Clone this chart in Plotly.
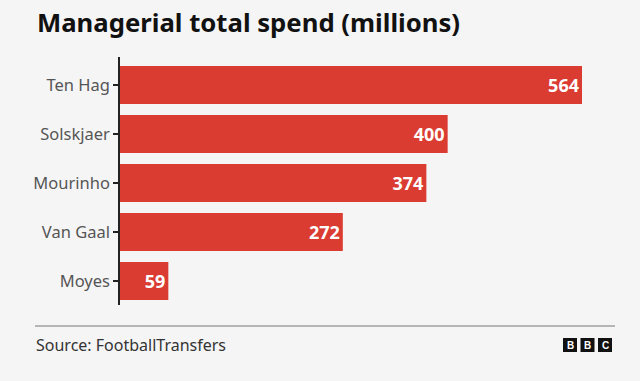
import plotly.graph_objects as go

managers = ["Ten Hag", "Solskjaer", "Mourinho", "Van Gaal", "Moyes"]
spend = [564, 400, 374, 272, 59]

BG = "#f5f5f5"
RED = "#da3c32"
FONT = "Noto Sans"

fig = go.Figure(go.Bar(
    x=spend, y=managers, orientation="h",
    marker=dict(color=RED, line=dict(width=0)),
    width=0.776,
    text=[str(v) for v in spend],
    textposition="inside", insidetextanchor="end",
    textfont=dict(family=FONT, size=18, color="white", weight="bold"),
    cliponaxis=False,
))

fig.update_layout(
    width=640, height=381,
    paper_bgcolor=BG, plot_bgcolor=BG,
    margin=dict(l=120, r=58, t=57, b=76),
    showlegend=False,
    font=dict(family=FONT),
    uniformtext=dict(mode=False),
)
fig.update_xaxes(range=[0, 564], visible=False, fixedrange=True)
fig.update_yaxes(
    categoryorder="array", categoryarray=managers,
    range=[4.49, -0.57],
    showline=True, linecolor="#222", linewidth=1.5,
    ticks="outside", ticklen=5, tickcolor="#222", tickwidth=1.5,
    tickfont=dict(family=FONT, size=16.5, color="#555"),
    showgrid=False, zeroline=False, fixedrange=True,
)

# title
fig.add_annotation(text="<b>Managerial total spend (millions)</b>", xref="paper", yref="paper",
                   x=(35 - 120) / 462, y=1 + (57 - 23) / 248, xanchor="left", yanchor="middle",
                   showarrow=False, font=dict(family=FONT, size=25.7, color="#111"))
# bottom rule
fig.add_shape(type="line", xref="paper", yref="paper",
              x0=(35 - 120) / 462, x1=(615 - 120) / 462,
              y0=-(326 - 305) / 248, y1=-(326 - 305) / 248,
              line=dict(color="#777", width=1))
# source
fig.add_annotation(text="Source: FootballTransfers", xref="paper", yref="paper",
                   x=(34 - 120) / 462, y=-(345 - 305) / 248, xanchor="left", yanchor="middle",
                   showarrow=False, font=dict(family=FONT, size=16, color="#333"))
# BBC logo
for i, letter in enumerate("BBC"):
    x0 = 563 + i * 17.5
    fig.add_shape(type="rect", xref="paper", yref="paper",
                  x0=(x0 - 120) / 462, x1=(x0 + 14 - 120) / 462,
                  y0=-(352 - 305) / 248, y1=-(338 - 305) / 248,
                  fillcolor="#111", line=dict(width=0))
    fig.add_annotation(text=f"<b>{letter}</b>", xref="paper", yref="paper",
                       x=(x0 + 7 - 120) / 462, y=-(345 - 305) / 248,
                       xanchor="center", yanchor="middle", showarrow=False,
                       font=dict(family="Liberation Sans", size=10, color="white"))

fig.write_html("out.html", config={"displayModeBar": False},
               post_script="document.body.style.margin='0px';")
